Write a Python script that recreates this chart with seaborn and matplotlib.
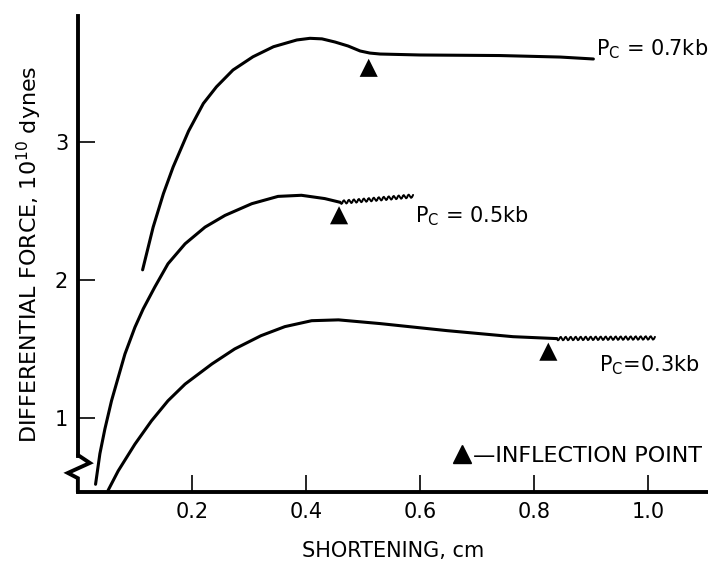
import numpy as np
import pandas as pd
import matplotlib
matplotlib.use('Agg')
import matplotlib.pyplot as plt
from matplotlib.lines import Line2D
import seaborn as sns

# curve values (shortening in cm, force in 1e10 dynes)
x_07 = [0.1135, 0.132, 0.150, 0.167, 0.194, 0.220, 0.243, 0.272, 0.307, 0.343,
        0.384, 0.407, 0.428, 0.451, 0.474, 0.495, 0.512, 0.530, 0.600, 0.740, 0.846, 0.904]
y_07 = [2.074, 2.384, 2.627, 2.82, 3.08, 3.281, 3.402, 3.524, 3.620, 3.693,
        3.742, 3.754, 3.750, 3.727, 3.698, 3.662, 3.647, 3.640, 3.633, 3.629, 3.618, 3.604]

x_05 = [0.031, 0.0386, 0.0474, 0.059, 0.0707, 0.0825, 0.100, 0.1146, 0.135, 0.158,
        0.188, 0.223, 0.258, 0.305, 0.351, 0.392, 0.433, 0.460]
y_05 = [0.518, 0.74, 0.92, 1.124, 1.293, 1.463, 1.657, 1.791, 1.95, 2.118,
        2.263, 2.384, 2.469, 2.554, 2.607, 2.615, 2.591, 2.564]
x_05_wavy = [0.460, 0.588]
y_05_wavy = [2.564, 2.61]

x_03 = [0.053, 0.0707, 0.100, 0.129, 0.158, 0.188, 0.235, 0.275, 0.321, 0.363, 0.410,
        0.457, 0.530, 0.647, 0.763, 0.840]
y_03 = [0.474, 0.615, 0.809, 0.978, 1.124, 1.245, 1.391, 1.500, 1.596, 1.662, 1.705,
        1.711, 1.684, 1.633, 1.589, 1.575]
x_03_wavy = [0.840, 1.012]
y_03_wavy = [1.575, 1.58]

# inflection points (triangles)
infl_x = [0.510, 0.458, 0.825]
infl_y = [3.54, 2.47, 1.48]

# curve labels
label_text = [r"P$_\mathregular{C}$ = 0.7kb", r"P$_\mathregular{C}$ = 0.5kb", r"P$_\mathregular{C}$=0.3kb"]
label_x = [0.908, 0.591, 0.914]
label_y = [3.63, 2.42, 1.34]

xticks = [0.2, 0.4, 0.6, 0.8, 1.0]
xticklabels = ['0.2', '0.4', '0.6', '0.8', '1.0']
yticks = [1, 2, 3]

sns.set_style('ticks')
plt.rcParams['font.family'] = ['DejaVu Sans']
plt.rcParams['mathtext.fontset'] = 'dejavusans'
plt.rcParams['text.color'] = 'black'
plt.rcParams['axes.labelcolor'] = 'black'
plt.rcParams['xtick.color'] = 'black'
plt.rcParams['ytick.color'] = 'black'

fig = plt.figure(figsize=(7.08, 5.61), dpi=100)
ax = fig.add_axes([0.110, 0.123, 0.890, 0.8485])

lw = 2.2
for xs, ys in [(x_07, y_07), (x_05, y_05), (x_03, y_03)]:
    df = pd.DataFrame({'x': xs, 'y': ys})
    sns.lineplot(data=df, x='x', y='y', ax=ax, color='black', lw=lw,
                 sort=False, estimator=None)
    ax.lines[-1].set_solid_capstyle('round')
    ax.lines[-1].set_solid_joinstyle('round')

for xs, ys in [(x_05_wavy, y_05_wavy), (x_03_wavy, y_03_wavy)]:
    df = pd.DataFrame({'x': xs, 'y': ys})
    sns.lineplot(data=df, x='x', y='y', ax=ax, color='black', lw=1.4,
                 sort=False, estimator=None)
    ax.lines[-1].set_sketch_params(scale=1.8, length=5, randomness=1)

sns.scatterplot(x=infl_x, y=infl_y, ax=ax, marker='^', color='black',
                s=170, edgecolor='none', zorder=5)

for t, tx, ty in zip(label_text, label_x, label_y):
    ax.text(tx, ty, t, fontsize=15, ha='left', va='baseline')

ax.set_xlim(0, 1.105)
ax.set_ylim(0.462, 3.916)
ax.set_xticks(xticks)
ax.set_xticklabels(xticklabels)
ax.set_yticks(yticks)
ax.tick_params(direction='in', length=12, width=1.2, labelsize=15, pad=7)

ax.set_xlabel('SHORTENING, cm', fontsize=15, labelpad=14)
ax.set_ylabel(r'DIFFERENTIAL FORCE, 10$^{10}$ dynes', fontsize=16, labelpad=8)

sns.despine(ax=ax)
for side in ['left', 'bottom']:
    ax.spines[side].set_linewidth(2.8)
    ax.spines[side].set_color('black')
ax.spines['left'].set_bounds(0.724, 3.916)

# axis break zigzag at the bottom of the force axis
brk = Line2D([0, 0.019, -0.0159, 0, 0], [0.0777, 0.061, 0.040, 0.029, 0],
             transform=ax.transAxes, color='black', lw=2.8, clip_on=False,
             solid_joinstyle='miter')
ax.add_line(brk)

handle = Line2D([], [], marker='^', color='black', ls='none', markersize=13)
ax.legend([handle], ['\u2014INFLECTION POINT'], loc='center right',
          bbox_to_anchor=(0.99, 0.076), frameon=False, fontsize=16,
          handlelength=0.8, handletextpad=0.1, borderpad=0, borderaxespad=0)

fig.savefig('out.png', dpi=100)
